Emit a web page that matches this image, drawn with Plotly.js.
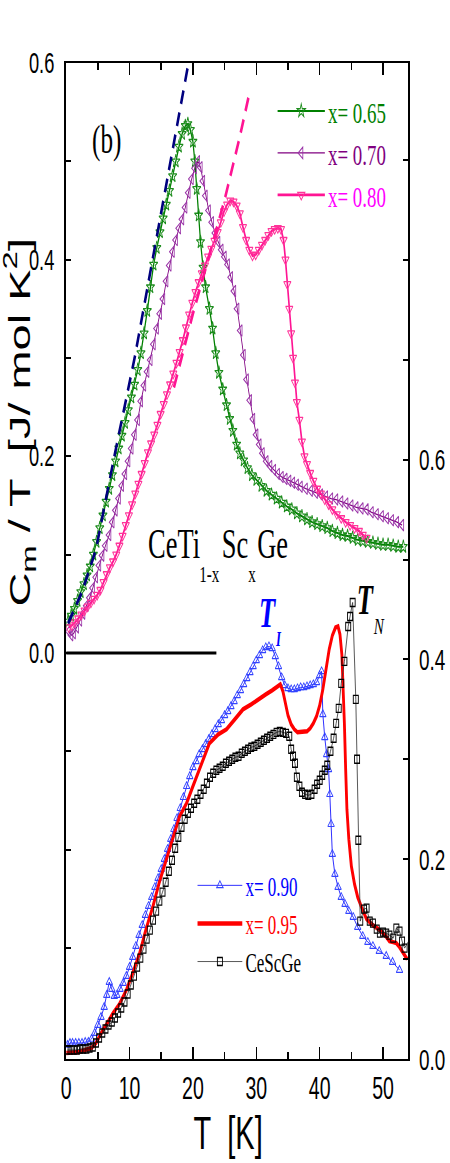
<!DOCTYPE html>
<html>
<head>
<meta charset="utf-8">
<script src="https://cdn.plot.ly/plotly-3.0.1.min.js"></script>
<style>
html,body{margin:0;padding:0;overflow:hidden;background:#fff;}
#wrap{width:450px;height:1163px;overflow:hidden;}
#plot{width:714px;height:1163px;transform:scaleX(0.630252);transform-origin:0 0;}
</style>
</head>
<body>
<div id="wrap"><div id="plot"></div></div>
<script>
// ---- data: CeTi(1-x)Sc(x)Ge, Cm/T vs T ----
// upper group (left axis)
const T065 = [0.3,0.8,1.3,1.8,2.3,2.8,3.3,3.8,4.3,4.8,5.3,5.8,6.3,6.8,7.3,7.8,8.3,8.8,9.3,9.8,10.3,10.8,11.3,11.8,12.3,12.8,13.3,13.8,14.3,14.8,15.3,15.8,16.3,16.8,17.3,17.8,18.3,18.8,19.2,19.6,20.0,20.3,20.6,20.9,21.2,21.6,22.0,22.6,23.1,23.6,24.1,24.7,25.3,25.8,26.3,26.9,27.4,28.0,28.6,29.3,30.0,30.8,31.6,32.4,33.2,34.0,34.8,35.6,36.4,37.2,38.0,38.8,39.6,40.4,41.2,42.0,42.8,43.6,44.4,45.2,46.0,46.8,47.6,48.4,49.2,50.0,50.8,51.6,52.4,53.2];
const C065 = [0.032,0.038,0.045,0.053,0.062,0.070,0.079,0.088,0.100,0.113,0.127,0.140,0.154,0.167,0.181,0.195,0.208,0.221,0.234,0.247,0.260,0.273,0.288,0.305,0.325,0.348,0.372,0.395,0.412,0.428,0.442,0.456,0.470,0.485,0.500,0.515,0.528,0.536,0.538,0.532,0.520,0.500,0.472,0.445,0.418,0.392,0.372,0.350,0.330,0.305,0.285,0.268,0.252,0.238,0.226,0.212,0.203,0.196,0.188,0.181,0.176,0.170,0.165,0.161,0.157,0.153,0.149,0.146,0.142,0.139,0.136,0.133,0.131,0.129,0.127,0.124,0.122,0.120,0.119,0.117,0.115,0.114,0.113,0.112,0.111,0.110,0.110,0.109,0.108,0.108];

const T070 = [0.4,0.8,1.2,1.7,2.2,2.7,3.2,3.7,4.2,4.7,5.2,5.7,6.2,6.8,7.3,7.8,8.3,8.8,9.3,9.8,10.3,10.8,11.3,11.8,12.3,12.8,13.3,13.8,14.3,14.8,15.3,15.8,16.3,16.8,17.3,17.8,18.3,18.8,19.3,19.8,20.3,20.8,21.2,21.6,22.0,22.5,23.0,23.5,24.0,24.5,25.0,25.5,26.0,26.5,27.0,27.5,28.0,28.5,29.0,29.5,30.0,30.5,31.0,31.6,32.2,32.8,33.4,34.0,34.6,35.2,35.8,36.4,37.0,37.8,38.6,39.4,40.2,41.0,41.8,42.6,43.4,44.2,45.0,45.8,46.6,47.4,48.2,49.0,49.8,50.6,51.4,52.2,53.0];
const C070 = [0.022,0.018,0.020,0.026,0.033,0.040,0.048,0.056,0.066,0.077,0.089,0.099,0.109,0.120,0.133,0.145,0.157,0.170,0.182,0.195,0.208,0.222,0.237,0.256,0.272,0.286,0.298,0.314,0.330,0.345,0.360,0.378,0.394,0.408,0.420,0.432,0.441,0.453,0.468,0.482,0.493,0.500,0.494,0.480,0.465,0.450,0.438,0.427,0.418,0.410,0.403,0.395,0.382,0.368,0.350,0.328,0.303,0.278,0.257,0.238,0.222,0.212,0.203,0.195,0.190,0.186,0.182,0.179,0.177,0.175,0.173,0.171,0.169,0.167,0.165,0.163,0.161,0.159,0.157,0.156,0.154,0.152,0.150,0.148,0.147,0.146,0.143,0.141,0.139,0.137,0.135,0.133,0.130];

const T080 = [0.4,0.9,1.4,1.9,2.4,2.9,3.4,3.9,4.4,4.9,5.4,5.9,6.4,6.9,7.4,7.9,8.4,8.9,9.4,9.9,10.4,10.9,11.4,11.9,12.4,12.9,13.4,13.9,14.4,14.9,15.4,15.9,16.4,16.9,17.4,17.9,18.4,18.9,19.4,19.9,20.4,20.9,21.4,21.9,22.4,22.9,23.4,23.9,24.4,24.9,25.4,25.9,26.4,26.9,27.4,27.9,28.4,28.9,29.4,29.9,30.4,30.9,31.4,31.9,32.4,32.9,33.4,33.9,34.3,34.6,34.9,35.2,35.5,35.8,36.1,36.4,36.8,37.2,37.6,38.0,38.5,39.0,39.6,40.2,40.8,41.4,42.0,42.7,43.4,44.1,44.8,45.5,46.2,46.8,47.4];
const C080 = [0.026,0.028,0.031,0.035,0.039,0.043,0.047,0.051,0.055,0.059,0.064,0.072,0.080,0.087,0.093,0.100,0.109,0.119,0.130,0.140,0.151,0.162,0.172,0.182,0.193,0.204,0.213,0.222,0.232,0.243,0.253,0.263,0.273,0.284,0.295,0.306,0.318,0.331,0.344,0.356,0.367,0.377,0.386,0.394,0.403,0.411,0.419,0.428,0.438,0.449,0.456,0.460,0.459,0.455,0.447,0.433,0.420,0.410,0.404,0.405,0.410,0.415,0.420,0.425,0.429,0.431,0.432,0.431,0.420,0.400,0.375,0.350,0.325,0.300,0.275,0.255,0.237,0.215,0.200,0.192,0.183,0.175,0.167,0.162,0.156,0.151,0.146,0.141,0.137,0.133,0.130,0.127,0.124,0.120,0.117];

// dashed guide lines (left axis)
const TfitA = [0.3,2.5,4.7,7.6,10.8,13.6,16.5,19.3];
const CfitA = [0.030,0.062,0.105,0.200,0.300,0.400,0.500,0.600];
const TfitB = [17.0,20.0,22.4,25.0,27.4,28.8];
const CfitB = [0.270,0.345,0.400,0.461,0.525,0.566];
const Tzero = [0, 23.7];
const Czero = [0, 0];

// lower group (right axis)
const T090 = [0.2,0.6,1.0,1.5,2.0,2.5,3.0,3.5,4.0,4.5,5.0,5.5,6.0,6.4,6.8,7.2,7.6,8.0,8.5,9.0,9.5,10.0,10.5,11.0,11.5,12.0,12.5,13.0,13.5,14.0,14.5,15.0,15.5,16.0,16.5,17.0,17.5,18.0,18.5,19.0,19.5,20.0,20.5,21.0,21.5,22.0,22.5,23.0,23.5,24.0,24.5,25.0,25.5,26.0,26.5,27.0,27.5,28.0,28.5,29.0,29.5,30.0,30.5,31.0,31.5,32.0,32.5,33.0,33.5,34.0,34.5,35.0,35.5,36.0,36.5,37.0,37.5,38.0,38.5,39.0,39.5,40.0,40.3,40.5,40.8,41.1,41.4,41.6,41.8,42.0,42.4,42.9,43.4,44.0,44.6,45.3,46.0,46.8,47.6,48.4,49.4,50.5,51.5,52.6];
const C090 = [0.014,0.016,0.016,0.016,0.016,0.016,0.017,0.017,0.020,0.026,0.034,0.042,0.052,0.064,0.077,0.070,0.063,0.064,0.070,0.076,0.083,0.092,0.102,0.113,0.124,0.134,0.144,0.153,0.162,0.172,0.181,0.190,0.200,0.210,0.220,0.230,0.241,0.251,0.262,0.273,0.283,0.292,0.298,0.305,0.310,0.315,0.320,0.325,0.330,0.335,0.339,0.344,0.348,0.353,0.358,0.364,0.369,0.375,0.381,0.387,0.393,0.399,0.404,0.409,0.412,0.413,0.411,0.403,0.393,0.382,0.374,0.371,0.370,0.370,0.371,0.372,0.372,0.373,0.374,0.375,0.377,0.384,0.388,0.345,0.322,0.305,0.290,0.265,0.235,0.205,0.185,0.172,0.162,0.155,0.148,0.142,0.132,0.123,0.117,0.113,0.108,0.103,0.097,0.089];

const T095 = [0,1,2,3,4,4.7,5.3,5.8,6.5,7.4,8.4,9.5,10.5,11.6,12.6,13.7,14.7,15.8,16.8,17.9,18.5,19.0,20.0,21.3,22.6,24.0,25.3,26.6,27.9,29.2,30.5,31.5,32.5,33.4,33.8,34.2,34.6,35.0,35.5,36.0,36.5,37.0,37.5,38.0,38.5,39.0,39.5,40.0,40.5,41.0,41.5,42.0,42.5,42.9,43.2,43.5,43.7,43.9,44.1,44.3,44.6,45.0,45.5,46.0,46.6,47.4,48.4,49.5,50.3,51.0,51.6,52.1,52.6,53.2,53.8];
const C095 = [0.006,0.006,0.007,0.009,0.011,0.016,0.024,0.029,0.036,0.046,0.055,0.069,0.086,0.106,0.130,0.153,0.177,0.200,0.222,0.243,0.250,0.256,0.273,0.295,0.316,0.325,0.330,0.340,0.350,0.355,0.360,0.365,0.369,0.374,0.375,0.368,0.355,0.344,0.335,0.330,0.327,0.327,0.327,0.328,0.331,0.336,0.343,0.354,0.370,0.390,0.410,0.424,0.432,0.433,0.425,0.405,0.375,0.336,0.290,0.250,0.220,0.193,0.175,0.162,0.152,0.140,0.134,0.129,0.124,0.118,0.117,0.116,0.112,0.106,0.100];

const TScGe = [0.2,0.7,1.2,1.7,2.2,2.7,3.2,3.7,4.2,4.7,5.2,5.7,6.2,6.7,7.2,7.7,8.2,8.7,9.2,9.7,10.2,10.7,11.2,11.7,12.2,12.7,13.2,13.7,14.2,14.7,15.2,15.7,16.2,16.7,17.2,17.7,18.2,18.7,19.2,19.7,20.2,20.7,21.2,21.7,22.2,22.7,23.2,23.7,24.2,24.7,25.2,25.7,26.2,26.7,27.2,27.7,28.2,28.7,29.2,29.7,30.2,30.7,31.2,31.7,32.2,32.7,33.2,33.7,34.2,34.7,35.2,35.5,35.8,36.1,36.4,36.8,37.2,37.7,38.2,38.7,39.2,39.6,40.0,40.4,40.8,41.2,41.7,42.2,42.6,43.0,43.4,43.9,44.5,44.8,45.2,45.7,45.9,46.1,46.4,47.0,47.4,47.9,48.4,49.0,49.5,50.0,50.5,51.0,51.6,52.1,52.6,53.0,53.4,54.4];
const CScGe = [0.009,0.009,0.009,0.009,0.010,0.010,0.010,0.011,0.012,0.016,0.021,0.026,0.030,0.034,0.037,0.041,0.046,0.051,0.057,0.065,0.074,0.083,0.092,0.101,0.110,0.120,0.129,0.139,0.148,0.158,0.167,0.177,0.188,0.199,0.211,0.222,0.232,0.240,0.246,0.251,0.256,0.260,0.265,0.270,0.276,0.282,0.286,0.289,0.291,0.293,0.296,0.298,0.300,0.302,0.303,0.306,0.308,0.310,0.312,0.313,0.315,0.317,0.319,0.321,0.323,0.325,0.327,0.328,0.327,0.326,0.323,0.310,0.303,0.296,0.282,0.273,0.267,0.265,0.264,0.265,0.270,0.275,0.279,0.284,0.289,0.294,0.308,0.321,0.336,0.351,0.376,0.398,0.433,0.443,0.457,0.360,0.300,0.219,0.138,0.150,0.151,0.138,0.136,0.130,0.126,0.127,0.126,0.124,0.121,0.131,0.128,0.118,0.111,0.122];

// axis ticks
const xTickVals = [0,10,20,30,40,50];
const xTickText = ['0','10','20','30','40','50'];
const yTickVals = [0,0.2,0.4,0.6];
const yTickText = ['0.0','0.2','0.4','0.6'];

// ---- figure ----
const serif = 'Liberation Serif, Times New Roman, serif';
const sans = 'Liberation Sans, Arial, Helvetica, sans-serif';

const traces = [
  {x:T065, y:C065, type:'scatter', mode:'lines+markers', yaxis:'y', legend:'legend',
   name:'<span style="color:#008000">x= 0.65</span>',
   line:{color:'#008000', width:2}, marker:{symbol:'star-open', size:10, color:'#1b8c1b', line:{width:1.3}}},
  {x:T070, y:C070, type:'scatter', mode:'lines+markers', yaxis:'y', legend:'legend',
   name:'<span style="color:#800080">x= 0.70</span>',
   line:{color:'#800080', width:1.3}, marker:{symbol:'triangle-left-open', size:10, color:'#9a35a8', line:{width:1.3}}},
  {x:T080, y:C080, type:'scatter', mode:'lines+markers', yaxis:'y', legend:'legend',
   name:'<span style="color:#ff00ff">x= 0.80</span>',
   line:{color:'#ff1493', width:2.6}, marker:{symbol:'triangle-down-open', size:10, color:'#ff3399', line:{width:1.3}}},
  {x:TfitA, y:CfitA, type:'scatter', mode:'lines', yaxis:'y', showlegend:false,
   line:{color:'#00007f', width:4, dash:'14px,9px'}},
  {x:TfitB, y:CfitB, type:'scatter', mode:'lines', yaxis:'y', showlegend:false,
   line:{color:'#ff1493', width:4, dash:'14px,9px'}},
  {x:Tzero, y:Czero, type:'scatter', mode:'lines', yaxis:'y', showlegend:false,
   line:{color:'#000000', width:3}},
  {x:T090, y:C090, type:'scatter', mode:'lines+markers', yaxis:'y2', legend:'legend2',
   name:'<span style="color:#0000ff">x= 0.90</span>',
   line:{color:'#0000ff', width:1}, marker:{symbol:'triangle-up-open', size:9, color:'#3344ff', line:{width:1.2}}},
  {x:T095, y:C095, type:'scatter', mode:'lines', yaxis:'y2', legend:'legend2',
   name:'<span style="color:#ff0000">x= 0.95</span>',
   line:{color:'#ff0000', width:4.5}},
  {x:TScGe, y:CScGe, type:'scatter', mode:'lines+markers', yaxis:'y2', legend:'legend2', cliponaxis:false,
   name:'<span style="color:#000000">CeScGe</span>',
   line:{color:'#333333', width:1}, marker:{symbol:'square-open', size:8, color:'#000000', line:{width:1.4}}}
];

const ann = (o) => Object.assign({showarrow:false, xref:'x', yref:'y', xanchor:'center', yanchor:'middle'}, o);

const layout = {
  width:714, height:1163, autosize:false,
  margin:{l:105, r:66, t:63, b:104, pad:0},
  paper_bgcolor:'#ffffff', plot_bgcolor:'#ffffff',
  font:{family:sans, color:'#000000'},
  showlegend:true,
  xaxis:{range:[0,54], tickmode:'array', tickvals:xTickVals, ticktext:xTickText,
    ticks:'inside', ticklen:12, tickwidth:2.4, tickcolor:'#000',
    showline:true, linewidth:2, linecolor:'#000', mirror:'ticks',
    showgrid:false, zeroline:false, ticklabelstandoff:1,
    tickfont:{family:sans, size:31, color:'#000'},
    minor:{tickmode:'linear', tick0:0, dtick:5, ticks:'inside', ticklen:7, tickwidth:2.4, tickcolor:'#000', showgrid:false}},
  yaxis:{range:[-0.413,0.6], tickmode:'array', tickvals:yTickVals, ticktext:yTickText,
    ticks:'inside', ticklen:8, tickwidth:2, tickcolor:'#000',
    showline:true, linewidth:3, linecolor:'#000', mirror:false,
    showgrid:false, zeroline:false, ticklabelstandoff:10,
    tickfont:{family:sans, size:29, color:'#000'},
    minor:{tickmode:'linear', tick0:0, dtick:0.1, ticks:'inside', ticklen:8, tickwidth:2, tickcolor:'#000', showgrid:false}},
  yaxis2:{overlaying:'y', side:'right', range:[0,0.997], tickmode:'array', tickvals:yTickVals, ticktext:yTickText,
    ticks:'inside', ticklen:8, tickwidth:2, tickcolor:'#000',
    showline:true, linewidth:3, linecolor:'#000',
    showgrid:false, zeroline:false, ticklabelstandoff:8,
    tickfont:{family:sans, size:30, color:'#000'},
    minor:{tickmode:'linear', tick0:0, dtick:0.1, ticks:'inside', ticklen:8, tickwidth:2, tickcolor:'#000', showgrid:false}},
  legend:{x:0.6086, y:0.978, xanchor:'left', yanchor:'top', bgcolor:'rgba(0,0,0,0)', borderwidth:0,
    font:{family:serif, size:30, color:'#000'}, itemwidth:75, tracegroupgap:0},
  legend2:{x:0.3746, y:0.1985, xanchor:'left', yanchor:'top', bgcolor:'rgba(0,0,0,0)', borderwidth:0,
    font:{family:serif, size:27, color:'#000'}, itemwidth:71, tracegroupgap:0},
  annotations:[
    ann({text:'(b)', x:6.44, y:0.5217, font:{family:serif, size:40, color:'#000'}}),
    ann({text:'CeTi', x:12.70, y:0.1104, xanchor:'left', font:{family:serif, size:42, color:'#000'}}),
    ann({text:'1-x', x:20.80, y:0.0807, xanchor:'left', font:{family:serif, size:24, color:'#000'}}),
    ann({text:'Sc', x:24.40, y:0.1104, xanchor:'left', font:{family:serif, size:42, color:'#000'}}),
    ann({text:'x', x:28.55, y:0.0807, xanchor:'left', font:{family:serif, size:24, color:'#000'}}),
    ann({text:'Ge', x:29.90, y:0.1104, xanchor:'left', font:{family:serif, size:42, color:'#000'}}),
    ann({text:'<b><i>T</i></b>', x:31.85, y:0.0411, font:{family:serif, size:42, color:'#0000ff'}}),
    ann({text:'<b><i>I</i></b>', x:33.50, y:0.0137, font:{family:serif, size:20, color:'#0000ff'}}),
    ann({text:'<b><i>T</i></b>', x:47.28, y:0.0543, font:{family:serif, size:42, color:'#000'}}),
    ann({text:'<i>N</i>', x:49.40, y:0.0276, font:{family:serif, size:24, color:'#000'}}),
    ann({text:'C<sub>m</sub> / T\u00a0 [J/ mol K<sup>2</sup>]', xref:'paper', yref:'paper', x:-0.135, y:0.6396,
         textangle:-90, font:{family:sans, size:47, color:'#000'}}),
    ann({text:'T\u00a0 [K]', xref:'x', yref:'paper', x:25.53, y:-0.0743, font:{family:sans, size:46, color:'#000'}})
  ]
};

Plotly.newPlot('plot', traces, layout, {staticPlot:true, displayModeBar:false});
</script>
</body>
</html>
